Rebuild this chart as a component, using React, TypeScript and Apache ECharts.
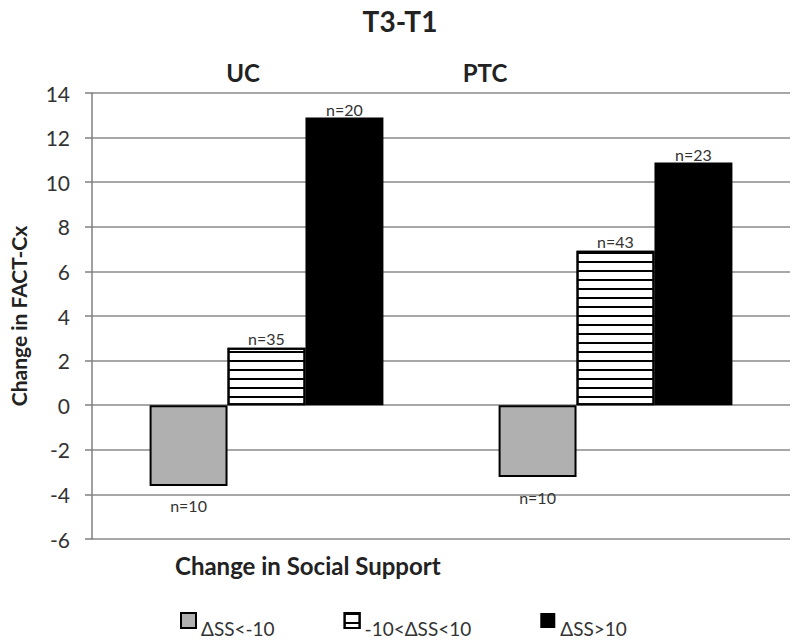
import React, { useEffect, useRef } from "react";
import * as echarts from "echarts";

const categories = ["UC", "PTC"];
const seriesNames = ["ΔSS<-10", "-10<ΔSS<10", "ΔSS>10"];
const lowValues = [-3.62, -3.22];
const midValues = [2.58, 6.93];
const highValues = [12.9, 10.88];
const lowN = ["n=10", "n=10"];
const midN = ["n=35", "n=43"];
const highN = ["n=20", "n=23"];
const yTicks = { min: -6, max: 14, interval: 2 };

const FONT = "Lato, 'Open Sans', sans-serif";

export default function App() {
  const ref = useRef<HTMLDivElement>(null);
  useEffect(() => {
    document.body.style.margin = "0";
    if (!ref.current) return;
    const chart = echarts.init(ref.current, null, { renderer: "svg" });
    const labelStyle = { fontFamily: FONT, fontSize: 16, color: "#333" };
    const mk = (vals: number[], ns: string[]) =>
      vals.map((v, i) => ({ value: v, nLabel: ns[i] }));
    chart.setOption({
      animation: false,
      backgroundColor: "#fff",
      title: {
        text: "T3-T1",
        left: "center",
        top: 2,
        textStyle: { fontFamily: FONT, fontSize: 28, fontWeight: "bold", color: "#222" },
      },
      graphic: [
        {
          type: "text",
          x: 243,
          y: 72,
          style: { text: categories[0], fontFamily: FONT, fontSize: 24, fontWeight: "bold", fill: "#222", align: "center", verticalAlign: "middle" },
        },
        {
          type: "text",
          x: 485,
          y: 72,
          style: { text: categories[1], fontFamily: FONT, fontSize: 24, fontWeight: "bold", fill: "#222", align: "center", verticalAlign: "middle" },
        },
        {
          type: "text",
          x: 175,
          y: 565,
          style: { text: "Change in Social Support", fontFamily: FONT, fontSize: 24, fontWeight: "bold", fill: "#222", align: "left", verticalAlign: "middle" },
        },
      ],
      legend: {
        left: 175,
        top: 607,
        itemWidth: 15,
        itemHeight: 15,
        itemGap: 69,
        icon: "rect",
        data: seriesNames,
        formatter: "{a|{name}}",
        textStyle: {
          fontFamily: FONT,
          fontSize: 19,
          color: "#333",
          rich: { a: { fontFamily: FONT, fontSize: 19, color: "#333", padding: [16, 0, 0, 0] } },
        },
      },
      grid: { left: 83, right: 10, top: 93, bottom: 103, containLabel: false },
      xAxis: {
        type: "category",
        data: categories,
        axisLine: { show: false, onZero: false },
        axisTick: { show: false },
        axisLabel: { show: false },
      },
      yAxis: {
        type: "value",
        min: yTicks.min,
        max: yTicks.max,
        interval: yTicks.interval,
        name: "Change in FACT-Cx",
        nameLocation: "middle",
        nameRotate: 90,
        nameGap: 63,
        nameTextStyle: { fontFamily: FONT, fontSize: 21, fontWeight: "bold", color: "#222" },
        axisLine: { show: true, lineStyle: { color: "#808080", width: 1.5 } },
        axisTick: { show: true, length: 7, lineStyle: { color: "#808080", width: 1.5 } },
        axisLabel: { fontFamily: FONT, fontSize: 21, color: "#333", margin: 22 },
        splitLine: { show: true, lineStyle: { color: "#8a8a8a", width: 1.5 } },
      },
      series: [
        {
          name: seriesNames[0],
          type: "bar",
          barGap: "0%",
          barCategoryGap: "33%",
          data: mk(lowValues, lowN),
          itemStyle: { color: "#b0b0b0", borderColor: "#000", borderWidth: 2 },
          label: {
            show: true,
            position: "bottom",
            distance: 12,
            formatter: (p: any) => p.data.nLabel,
            ...labelStyle,
          },
        },
        {
          name: seriesNames[1],
          type: "bar",
          barGap: "0%",
          barCategoryGap: "33%",
          data: mk(midValues, midN),
          itemStyle: {
            color: "#fff",
            borderColor: "#000",
            borderWidth: 2,
            decal: {
              symbol: "rect",
              symbolSize: 1,
              color: "#000",
              dashArrayX: [[6, 0]],
              dashArrayY: [2, 7],
              rotation: 0,
            },
          },
          label: {
            show: true,
            position: "top",
            distance: 1,
            formatter: (p: any) => p.data.nLabel,
            ...labelStyle,
          },
        },
        {
          name: seriesNames[2],
          type: "bar",
          barGap: "0%",
          barCategoryGap: "33%",
          data: mk(highValues, highN),
          itemStyle: { color: "#000" },
          label: {
            show: true,
            position: "top",
            distance: 0,
            formatter: (p: any) => p.data.nLabel,
            ...labelStyle,
          },
        },
      ],
    });
    return () => chart.dispose();
  }, []);
  return <div ref={ref} style={{ width: 800, height: 642 }} />;
}
